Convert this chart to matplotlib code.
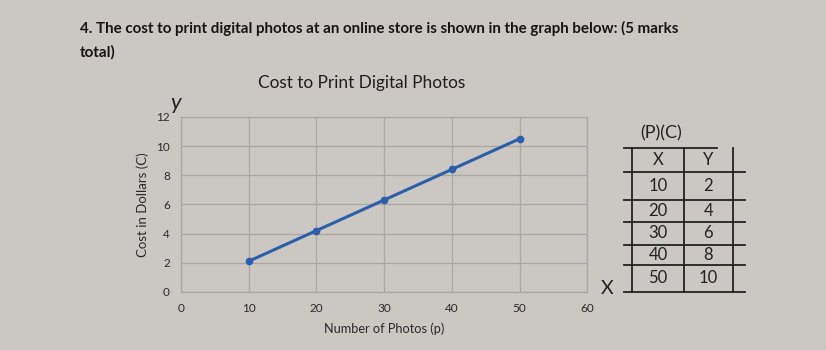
import matplotlib
matplotlib.use("Agg")
import matplotlib.pyplot as plt

plt.rcParams["font.family"] = ["Lato", "DejaVu Sans"]

# Data
photos = [10, 20, 30, 40, 50]
cost = [2.1, 4.2, 6.3, 8.4, 10.5]
x_ticks = [0, 10, 20, 30, 40, 50, 60]
y_ticks = [0, 2, 4, 6, 8, 10, 12]
table_header = ["X", "Y"]
table_x = ["10", "20", "30", "40", "50"]
table_y = ["2", "4", "6", "8", "10"]

bg = "#cbc8c4"
fig = plt.figure(figsize=(8.26, 3.5), dpi=100, facecolor=bg)

ax = fig.add_axes([0.219, 0.166, 0.492, 0.5])
ax.set_facecolor(bg)
ax.plot(photos, cost, color="#2b5fa9", lw=2.2, marker="o", ms=4.5, zorder=3)
ax.set_xlim(0, 60)
ax.set_ylim(0, 12)
ax.set_xticks(x_ticks)
ax.set_yticks(y_ticks)
ax.grid(True, color="#a9a7a4", lw=0.9)
for s in ax.spines.values():
    s.set_color("#a9a7a4")
    s.set_linewidth(0.9)
ax.tick_params(length=0, labelsize=8.5, colors="#2a2a2a", pad=8)
ax.set_xlabel("Number of Photos (p)", fontsize=9.2, color="#2a2a2a", labelpad=6)
ax.set_ylabel("Cost in Dollars (C)", fontsize=9.5, color="#2a2a2a", labelpad=5)
fig.text(0.438, 0.763, "Cost to Print Digital Photos", fontsize=12.4, color="#1e1e1e",
         ha="center", va="center")

fig.text(0.097, 0.918, "4. The cost to print digital photos at an online store is shown in the graph below: (5 marks",
         fontsize=10.9, fontweight="bold", color="#151515", ha="left", va="center")
fig.text(0.097, 0.85, "total)", fontsize=10.9, fontweight="bold", color="#151515", ha="left", va="center")

# handwritten annotations
fig.text(0.212, 0.705, "y", fontsize=16, color="#222", ha="center", va="center", style="italic")
fig.text(0.735, 0.175, "X", fontsize=14, color="#222", ha="center", va="center")

# handwritten table
ink = "#222222"
fig.text(0.8, 0.62, "(P)(C)", fontsize=13, color=ink, ha="center", va="center")
left, mid, right = 0.765, 0.828, 0.887
rows_y = [0.577, 0.509, 0.429, 0.366, 0.30, 0.243, 0.166]
for yy in rows_y[1:]:
    fig.add_artist(plt.Line2D([left - 0.01, right + 0.015], [yy, yy], color=ink, lw=1.3))
fig.add_artist(plt.Line2D([left - 0.01, mid + 0.04], [rows_y[0], rows_y[0]], color=ink, lw=1.3))
for xx in (left, mid, right):
    fig.add_artist(plt.Line2D([xx, xx], [rows_y[-1], rows_y[0]], color=ink, lw=1.3))
cells = [table_header] + list(zip(table_x, table_y))
for i, (a, b) in enumerate(cells):
    yc = (rows_y[i] + rows_y[i + 1]) / 2
    fig.text((left + mid) / 2, yc, a, fontsize=12, color=ink, ha="center", va="center")
    fig.text((mid + right) / 2, yc, b, fontsize=12, color=ink, ha="center", va="center")

fig.savefig("out.png", dpi=100, facecolor=bg)
